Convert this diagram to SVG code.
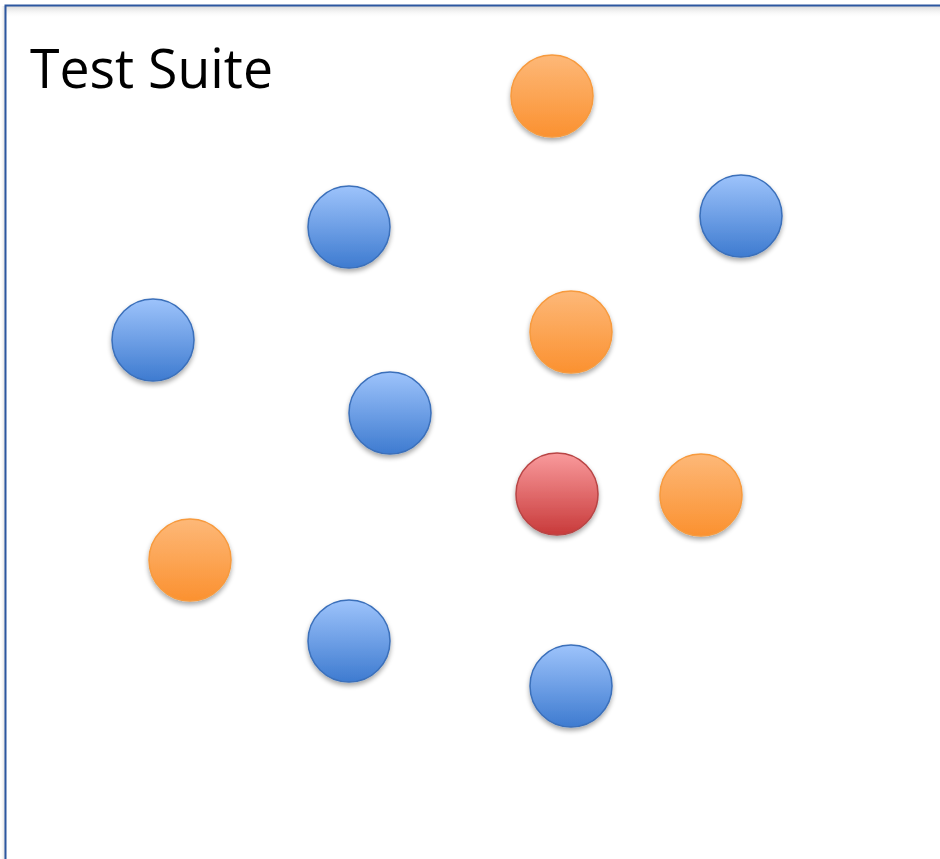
<svg xmlns="http://www.w3.org/2000/svg" width="940" height="859" viewBox="0 0 940 859">
<defs>
<linearGradient id="gb" x1="0" y1="0" x2="0" y2="1"><stop offset="0" stop-color="#9dc3fb"/><stop offset="1" stop-color="#3e7bd0"/></linearGradient>
<linearGradient id="go" x1="0" y1="0" x2="0" y2="1"><stop offset="0" stop-color="#fdb878"/><stop offset="1" stop-color="#fb9130"/></linearGradient>
<linearGradient id="gr" x1="0" y1="0" x2="0" y2="1"><stop offset="0" stop-color="#f99a9c"/><stop offset="1" stop-color="#c83a3a"/></linearGradient>
<linearGradient id="gt" x1="0" y1="0" x2="0" y2="1"><stop offset="0" stop-color="#d8d8d8"/><stop offset="1" stop-color="#ffffff" stop-opacity="0"/></linearGradient>
<linearGradient id="gl" x1="0" y1="0" x2="1" y2="0"><stop offset="0" stop-color="#ffffff" stop-opacity="0"/><stop offset="1" stop-color="#d8d8d8"/></linearGradient>
<filter id="sh" x="-30%" y="-30%" width="160%" height="160%"><feGaussianBlur in="SourceAlpha" stdDeviation="2.5"/><feOffset dx="0" dy="3"/><feComponentTransfer><feFuncA type="linear" slope="0.35"/></feComponentTransfer><feMerge><feMergeNode/><feMergeNode in="SourceGraphic"/></feMerge></filter>
</defs>
<style>
.b{fill:url(#gb);stroke:#3a6fba;stroke-width:1.5}
.o{fill:url(#go);stroke:#f79a3e;stroke-width:1.5}
.r{fill:url(#gr);stroke:#b84444;stroke-width:1.5}
circle{filter:url(#sh)}
.t{font-family:"Open Sans","Liberation Sans",sans-serif;font-size:55px;fill:#000}
</style>
<rect width="940" height="859" fill="#ffffff"/>
<g id="frame">
<rect x="5" y="6" width="935" height="12" fill="url(#gt)"/>
<rect x="0" y="6" width="5" height="853" fill="url(#gl)"/>
<path d="M5.5,859 V5.5 H940" fill="none" stroke="#2c57a0" stroke-width="2"/>
<text class="t" x="30" y="88" textLength="243" lengthAdjust="spacingAndGlyphs">Test Suite</text>
</g>
<g id="n1"><circle class="o" cx="552" cy="96" r="41"/></g>
<g id="n2"><circle class="b" cx="349" cy="227" r="41"/></g>
<g id="n3"><circle class="b" cx="741" cy="216" r="41"/></g>
<g id="n4"><circle class="b" cx="153" cy="340" r="41"/></g>
<g id="n5"><circle class="o" cx="571" cy="332" r="41"/></g>
<g id="n6"><circle class="b" cx="390" cy="413" r="41"/></g>
<g id="n7"><circle class="r" cx="557" cy="494" r="41"/></g>
<g id="n8"><circle class="o" cx="701" cy="495" r="41"/></g>
<g id="n9"><circle class="o" cx="190" cy="560" r="41"/></g>
<g id="n10"><circle class="b" cx="349" cy="641" r="41"/></g>
<g id="n11"><circle class="b" cx="571" cy="686" r="41"/></g>
<g id="connectors"/>
</svg>
